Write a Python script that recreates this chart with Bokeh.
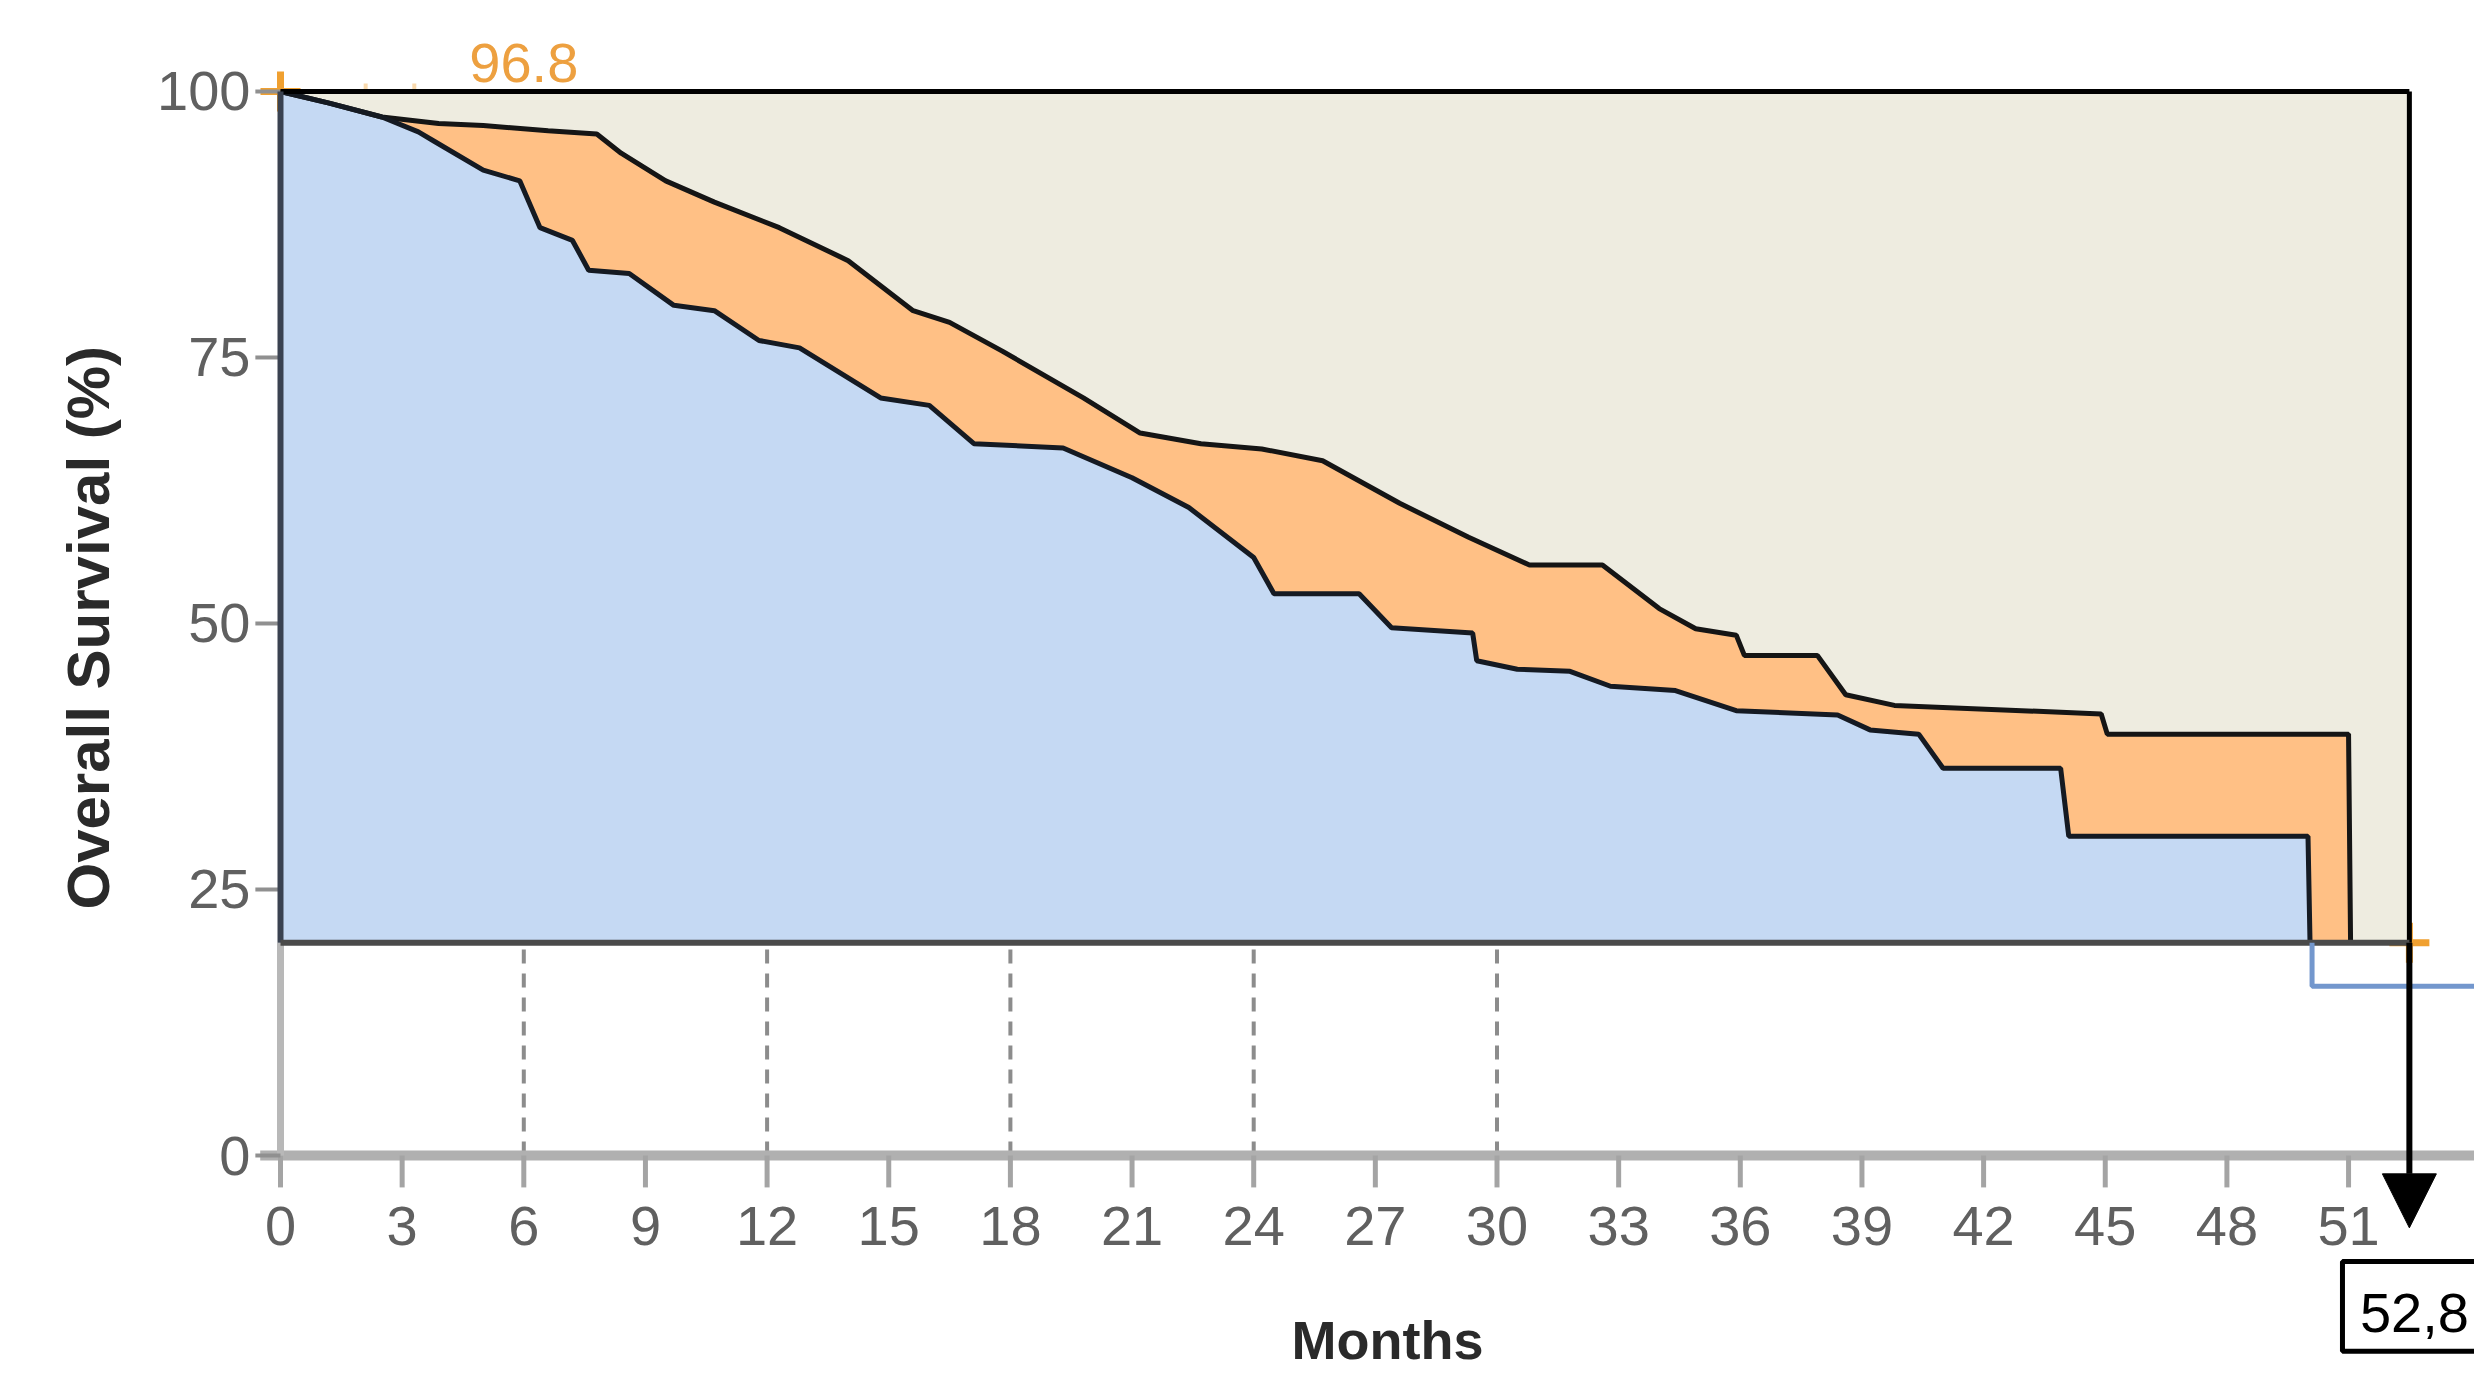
from bokeh.plotting import figure
from bokeh.models import Range1d, Arrow, NormalHead
from bokeh.core.properties import value
from bokeh.embed import file_html
from bokeh.resources import INLINE

# ---------------- data ----------------
# upper curve (top of the orange band)
upper_months = [0, 1.2, 2.5, 3.9, 5.0, 6.6, 7.8, 8.4, 9.5, 10.7, 12.3, 14.0, 15.6,
                16.5, 17.8, 19.8, 21.2, 22.7, 24.2, 25.7, 27.6, 29.3, 30.8, 32.6,
                34.0, 34.9, 35.9, 36.1, 37.9, 38.6, 39.8, 44.9, 45.05, 51.0, 51.05]
upper_surv = [100, 98.9, 97.6, 97.0, 96.8, 96.3, 96.0, 94.2, 91.6, 89.6, 87.2, 84.1, 79.4,
              78.3, 75.6, 71.2, 67.9, 66.9, 66.4, 65.3, 61.3, 58.1, 55.5, 55.5,
              51.4, 49.5, 48.9, 47.0, 47.0, 43.3, 42.3, 41.5, 39.6, 39.6, 20]

# lower curve (top of the blue area)
lower_months = [0, 1.2, 2.5, 3.4, 3.8, 5.0, 5.9, 6.4, 7.2, 7.6, 8.6, 9.7, 10.7, 11.8,
                12.8, 14.8, 16.0, 17.1, 19.3, 21.0, 22.4, 24.0, 24.5, 26.6, 27.4, 29.4,
                29.5, 30.5, 31.8, 32.8, 34.4, 35.9, 38.4, 39.2, 40.4, 41.0, 43.9, 44.1,
                50.0, 50.05]
lower_surv = [100, 98.9, 97.6, 96.2, 95.3, 92.6, 91.6, 87.2, 86.0, 83.2, 82.9, 79.9, 79.4,
              76.6, 75.9, 71.2, 70.5, 66.9, 66.5, 63.7, 60.9, 56.2, 52.8, 52.8, 49.6,
              49.1, 46.5, 45.7, 45.5, 44.1, 43.7, 41.8, 41.4, 40.0, 39.6, 36.4, 36.4,
              30.0, 30.0, 20]

# blue curve continuing below the box
tail_months = [50.1, 50.1, 56.0]
tail_surv = [20, 15.9, 15.9]

# shaded box
box_months = [0, 52.5]
box_surv = [20, 100]

# follow-up arrow / label
followup_month = 52.5
followup_label = "52,8"
arrow_tip = -6.8

# six-month value label
six_month = 6
six_month_label = "96.8"

# censor marks
cens_months = [0, 52.5]
cens_surv = [100, 20]
faint_months = [2.1, 3.3]
faint_surv = [100, 100]

# ticks
x_ticks = list(range(0, 52, 3))
y_ticks = [0, 25, 50, 75, 100]
dash_months = [6, 12, 18, 24, 30]

FONT = "Liberation Sans"

# ---------------- figure ----------------
W, H = 2474, 1376
p = figure(width=W, height=H, output_backend="svg", toolbar_location=None,
           x_axis_location=None, y_axis_location=None, min_border=0,
           x_range=Range1d(-6.905, 54.106), y_range=Range1d(-20.77, 108.55),
           title=None)
p.outline_line_color = None
p.background_fill_color = "white"
p.border_fill_color = "white"
p.xgrid.visible = False
p.ygrid.visible = False

BEIGE = "#eeece0"
ORANGE = "#ffc085"
BLUE = "#c5d9f3"

# censor marks (orange), partly hidden behind the box
p.scatter(faint_months, faint_surv, marker="cross", size=16, line_color="#f0a030",
          line_width=4, alpha=0.4)
p.scatter(cens_months, cens_surv, marker="cross", size=40, line_color="#f0a030",
          line_width=7)

# beige box
p.quad(left=[box_months[0]], right=[box_months[1]], bottom=[box_surv[0]], top=[box_surv[1]],
       fill_color=BEIGE, line_color=None)

# orange area under upper curve
p.patch(upper_months + [box_months[0]], upper_surv + [box_surv[0]],
        fill_color=ORANGE, line_color=None)
# blue area under lower curve
p.patch(lower_months + [box_months[0]], lower_surv + [box_surv[0]],
        fill_color=BLUE, line_color=None)

# curve outlines
p.line(upper_months, upper_surv, line_color="#151515", line_width=5)
p.line(lower_months, lower_surv, line_color="#151a22", line_width=5)

# dashed verticals between box bottom and axis
p.segment(x0=dash_months, y0=[0] * len(dash_months), x1=dash_months,
          y1=[box_surv[0]] * len(dash_months),
          line_color="#8c8c8c", line_width=4, line_dash="14 10")

# x axis line + ticks
p.segment(x0=[-0.5], y0=[0], x1=[56], y1=[0], line_color="#b0b0b0", line_width=10)
p.segment(x0=x_ticks, y0=[0] * len(x_ticks), x1=x_ticks, y1=[-3.0] * len(x_ticks),
          line_color="#a4a4a4", line_width=5)
# y axis line (visible part below the box) + ticks
p.segment(x0=[0], y0=[0], x1=[0], y1=[box_surv[0]], line_color="#b8b8b8", line_width=7)
p.segment(x0=[-0.62] * len(y_ticks), y0=y_ticks, x1=[0] * len(y_ticks), y1=y_ticks,
          line_color="#909090", line_width=4)

# box border
p.line([box_months[0], box_months[1]], [box_surv[1], box_surv[1]], line_color="black", line_width=5)
p.line([box_months[1], box_months[1]], [box_surv[0], box_surv[1]], line_color="black", line_width=5)
p.line([box_months[0], box_months[0]], [box_surv[0], box_surv[1]], line_color="#3a4250", line_width=6)
p.line([box_months[0], box_months[1]], [box_surv[0], box_surv[0]], line_color="#4a4a4a", line_width=6)

# blue tail below the box
p.line(tail_months, tail_surv, line_color="#7397cd", line_width=5)

# follow-up arrow
p.add_layout(Arrow(end=NormalHead(size=54, fill_color="black", line_color="black"),
                   x_start=followup_month, y_start=box_surv[0],
                   x_end=followup_month, y_end=arrow_tip,
                   line_color="black", line_width=6))

# follow-up label box
p.quad(left=[followup_month - 1.65], right=[followup_month + 4], top=[-9.96], bottom=[-18.4],
       fill_color="white", line_color="black", line_width=5)
p.text(x=[followup_month - 1.22], y=[-14.76], text=[followup_label],
       text_font=value(FONT), text_font_size="56px", text_color="black",
       text_align="left", text_baseline="middle")

# tick labels
p.text(x=x_ticks, y=[0] * len(x_ticks), text=[str(t) for t in x_ticks],
       y_offset=70, text_font=value(FONT), text_font_size="56px", text_color="#606060",
       text_align="center", text_baseline="middle")
p.text(x=[0] * len(y_ticks), y=y_ticks, text=[str(t) for t in y_ticks],
       x_offset=-30, text_font=value(FONT), text_font_size="56px", text_color="#606060",
       text_align="right", text_baseline="middle")

# six-month value label
p.text(x=[six_month], y=[box_surv[1]], text=[six_month_label], y_offset=-28,
       text_font=value(FONT), text_font_size="56px", text_color="#eda040",
       text_align="center", text_baseline="middle")

# axis titles
p.text(x=[27.3], y=[-17.3], text=["Months"],
       text_font=value(FONT), text_font_size="54px", text_font_style="bold",
       text_color="#2a2a2a", text_align="center", text_baseline="alphabetic")
p.text(x=[0], y=[49.6], text=["Overall Survival (%)"], x_offset=-192, angle=1.5708,
       text_font=value(FONT), text_font_size="60px", text_font_style="bold",
       text_color="#2a2a2a", text_align="center", text_baseline="middle")

open("out.html", "w").write(file_html(p, INLINE))
